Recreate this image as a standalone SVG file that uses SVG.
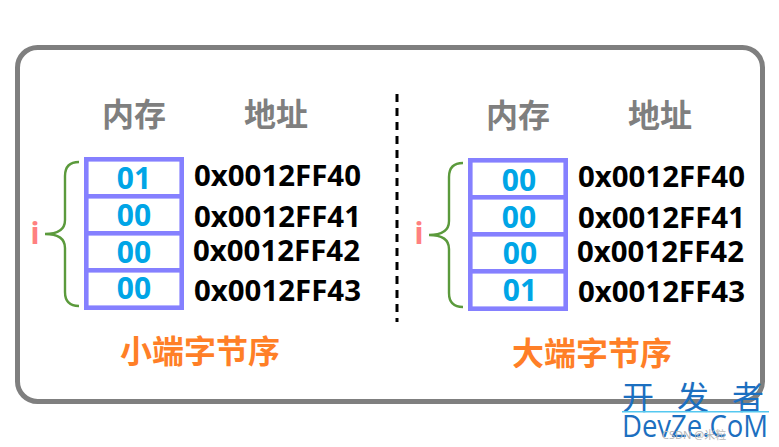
<svg xmlns="http://www.w3.org/2000/svg" width="779" height="447" viewBox="0 0 779 447">
<style>
text{font-family:"Noto Sans","Noto Sans CJK SC",sans-serif;font-weight:700}
.h{font-family:"Noto Sans CJK SC",sans-serif;font-size:32px;fill:#7f7f7f}
.a{font-size:29.400px;fill:#000}
.v{font-size:30px;fill:#00a5e6;text-anchor:middle}
.t{font-family:"Noto Sans CJK SC",sans-serif;font-size:32px;fill:#ff7f27}
.i{font-size:30px;fill:#ff8080;text-anchor:middle}
.c{fill:#fff;stroke:#8580ff;stroke-width:4.600}
.b{fill:none;stroke:#5b9a3c;stroke-width:2.400}
.w{font-family:"Noto Sans CJK SC",sans-serif;font-weight:400;fill:#1c6fc0}
</style>
<rect width="779" height="447" fill="#fff"/>
<rect id="frame" x="17.500" y="47.500" width="745" height="354" rx="20" fill="#fff" stroke="#7f7f7f" stroke-width="5"/>
<g id="connectors">
<path d="M397 94V322" fill="none" stroke="#000" stroke-width="3" stroke-dasharray="8 6"/>
<path class="b" d="M79 162C70 162 65 167 65 176V220C65 229 59 234 45 234C59 234 65 239 65 248V292C65 301 70 306 79 306"/>
<path class="b" d="M463 163C454 163 449 168 449 177V221C449 230 443 235 429 235C443 235 449 240 449 249V293C449 302 454 307 463 307"/>
</g>
<g id="little">
<text class="h" x="102" y="126">内存</text><text class="h" x="244" y="126">地址</text>
<g id="little-cells">
<rect class="c" x="86.300" y="159.300" width="95.400" height="37"/>
<rect class="c" x="86.300" y="196.300" width="95.400" height="37"/>
<rect class="c" x="86.300" y="233.300" width="95.400" height="37"/>
<rect class="c" x="86.300" y="270.300" width="95.400" height="37.400"/>
</g>
<text class="v" x="134" y="189">01</text><text class="v" x="134" y="226">00</text><text class="v" x="134" y="263">00</text><text class="v" x="134" y="299">00</text>
<text class="a" x="194" y="186">0x0012FF40</text><text class="a" x="194" y="227">0x0012FF41</text><text class="a" x="193" y="261">0x0012FF42</text><text class="a" x="194" y="301">0x0012FF43</text>
<text class="i" x="35" y="244">i</text>
<text class="t" x="120" y="363">小端字节序</text>
</g>
<g id="big">
<text class="h" x="486" y="127">内存</text><text class="h" x="628" y="127">地址</text>
<g id="big-cells">
<rect class="c" x="470.300" y="160.300" width="95.400" height="37"/>
<rect class="c" x="470.300" y="197.300" width="95.400" height="37"/>
<rect class="c" x="470.300" y="234.300" width="95.400" height="37"/>
<rect class="c" x="470.300" y="271.300" width="95.400" height="37.400"/>
</g>
<text class="v" x="519" y="191">00</text><text class="v" x="519" y="228">00</text><text class="v" x="520" y="264">00</text><text class="v" x="520" y="301">01</text>
<text class="a" x="578" y="187">0x0012FF40</text><text class="a" x="578" y="228">0x0012FF41</text><text class="a" x="577" y="262">0x0012FF42</text><text class="a" x="578" y="302">0x0012FF43</text>
<text class="i" x="419" y="244">i</text>
<text class="t" x="512" y="365">大端字节序</text>
</g>
<g id="watermark">
<text class="w" x="622" y="409" font-size="32">开</text><text class="w" x="677" y="409" font-size="32">发</text><text class="w" x="732" y="409" font-size="32">者</text>
<rect x="622" y="411" width="147" height="1.500" fill="#55c8f0"/>
<text x="622" y="437" font-size="31" style="font-family:'Open Sans',sans-serif;font-weight:400;fill:#1c6fc0" textLength="146" lengthAdjust="spacingAndGlyphs">DevZe.CoM</text>
<text x="662" y="439" font-size="11" style="font-weight:400;fill:#b8b8b8">CSDN @米粒</text>
</g>
</svg>
